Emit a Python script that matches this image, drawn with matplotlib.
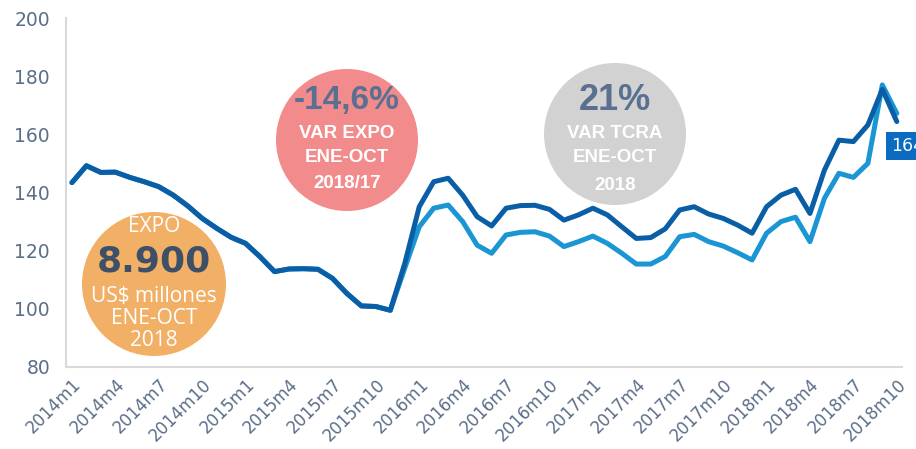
import matplotlib
matplotlib.use("Agg")
import matplotlib.pyplot as plt
from matplotlib.patches import Circle
import numpy as np

# monthly index, 2014m1 .. 2018m10
months = [f"{y}m{m}" for y in range(2014, 2019) for m in range(1, 13)][:58]

# dark line
expo = [143.4, 149.2, 146.9, 147.0, 145.2, 143.7, 142.0, 139.1, 135.4, 131.1,
        127.7, 124.6, 122.5, 117.9, 112.8, 113.7, 113.8, 113.6, 110.5, 105.3,
        101.0, 100.8, 99.5, 115.6, 135.1, 143.7, 144.9, 139.1, 131.7, 128.5,
        134.6, 135.5, 135.6, 134.2, 130.5, 132.3, 134.6, 132.3, 128.2, 124.2,
        124.5, 127.5, 134.0, 135.1, 132.6, 131.1, 128.8, 126.0, 135.1, 139.1,
        141.1, 132.8, 147.7, 158.0, 157.5, 163.2, 175.5, 164.4]
# light line
expo2 = [143.4, 149.2, 146.9, 147.0, 145.2, 143.7, 142.0, 139.1, 135.4, 131.1,
         127.7, 124.6, 122.5, 117.9, 112.8, 113.7, 113.8, 113.6, 110.5, 105.3,
         101.0, 100.8, 99.5, 114.0, 128.2, 134.6, 135.7, 130.0, 121.9, 119.1,
         125.4, 126.3, 126.5, 125.0, 121.4, 123.1, 125.0, 122.5, 119.1, 115.4,
         115.4, 118.0, 124.8, 125.6, 123.1, 121.6, 119.3, 116.8, 126.0, 130.0,
         131.5, 123.1, 138.0, 146.6, 145.2, 150.0, 177.0, 167.2]

W, H = 916, 449
fig = plt.figure(figsize=(W / 100, H / 100), dpi=100)
ax = fig.add_axes([66 / W, 1 - 367 / H, (902 - 66) / W, (367 - 18) / H])

x = np.arange(len(months))
ax.plot(x, expo2, color="#1996D3", lw=3.6, solid_capstyle="round", solid_joinstyle="round")
ax.plot(x, expo, color="#0A5EA6", lw=3.6, solid_capstyle="round", solid_joinstyle="round")

ax.set_xlim(-0.41, 57.36)
ax.set_ylim(80, 200)
ax.set_yticks(range(80, 201, 20))
ax.set_xticks(x[::3])
ax.set_xticklabels(months[::3], rotation=45, ha="right", rotation_mode="anchor")

tick_col = "#5B6E88"
ax.tick_params(axis="y", length=0, pad=11.5, labelsize=13.5, labelcolor=tick_col)
ax.tick_params(axis="x", length=0, pad=6, labelsize=12, labelcolor=tick_col)
for s in ["top", "right"]:
    ax.spines[s].set_visible(False)
for s in ["left", "bottom"]:
    ax.spines[s].set_color("#D9D9D9")
    ax.spines[s].set_linewidth(1.5)

# last value label (cut by the right edge, like the original)
fig.text(891 / W, 1 - 146 / H, "164", color="white", fontsize=12.5, va="center", ha="left",
         bbox=dict(boxstyle="square,pad=0.3", fc="#0B6BC0", ec="none"))


def circle(cx, cy, r, col):
    fig.add_artist(Circle((cx / 100, (H - cy) / 100), r / 100,
                          transform=fig.dpi_scale_trans, fc=col, ec="none", zorder=5))


def txt(px, py, s, **kw):
    fig.text(px / W, 1 - py / H, s, ha="center", va="center", zorder=6, **kw)


circle(154, 284, 72, "#F2B067")
txt(154, 227, "EXPO", color="white", fontsize=15, family="Open Sans")
txt(154, 261, "8.900", color="#3E4F68", fontsize=26, fontweight="bold", family="DejaVu Sans")
txt(154, 297, "US$ millones", color="white", fontsize=15, family="Open Sans")
txt(154, 319, "ENE-OCT", color="white", fontsize=15, family="Open Sans")
txt(154, 341, "2018", color="white", fontsize=15, family="Open Sans")

circle(347, 140, 71, "#F28B8C")
txt(347, 100, "-14,6%", color="#5A7090", fontsize=24, fontweight="bold", family="Liberation Sans")
txt(347, 133, "VAR EXPO", color="white", fontsize=13.5, fontweight="bold", family="Liberation Sans")
txt(347, 158, "ENE-OCT", color="white", fontsize=13.5, fontweight="bold", family="Liberation Sans")
txt(347, 184, "2018/17", color="white", fontsize=13.5, fontweight="bold", family="Liberation Sans")

circle(615, 134, 71, "#D2D2D2")
txt(615, 100, "21%", color="#5A7090", fontsize=26, fontweight="bold", family="Liberation Sans")
txt(615, 133, "VAR TCRA", color="white", fontsize=13.5, fontweight="bold", family="Liberation Sans")
txt(615, 158, "ENE-OCT", color="white", fontsize=13.5, fontweight="bold", family="Liberation Sans")
txt(615, 185, "2018", color="white", fontsize=13.5, fontweight="bold", family="Liberation Sans")

fig.savefig("out.png", dpi=100)
